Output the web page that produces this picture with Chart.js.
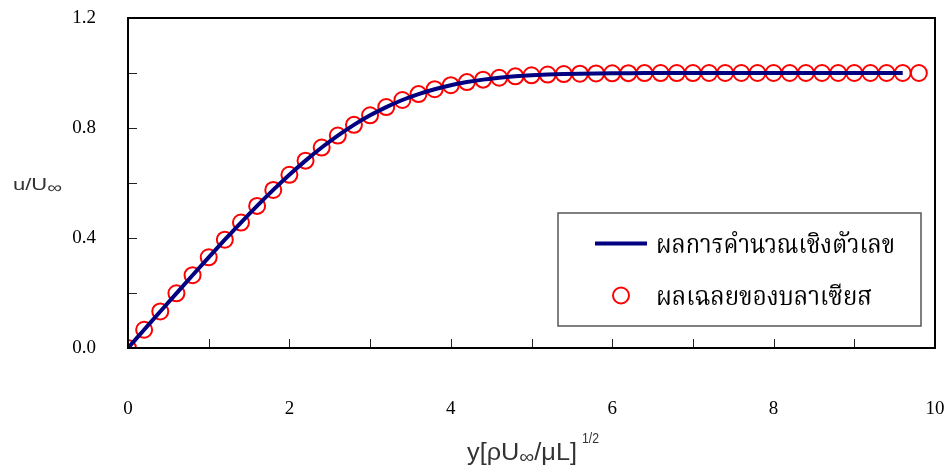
<!DOCTYPE html>
<html>
<head>
<meta charset="utf-8">
<script src="https://cdn.jsdelivr.net/npm/chart.js@4.4.1/dist/chart.umd.min.js"></script>
<style>
  html, body { margin: 0; padding: 0; background: #fff; }
  #wrap { width: 945px; height: 469px; }
</style>
</head>
<body>
<div id="wrap"><canvas id="graph" width="945" height="469"></canvas></div>
<script>
// Blasius similarity variable and velocity ratio u/U
const etaValues = [0.0, 0.2, 0.4, 0.6, 0.8, 1.0, 1.2, 1.4, 1.6, 1.8,
                   2.0, 2.2, 2.4, 2.6, 2.8, 3.0, 3.2, 3.4, 3.6, 3.8,
                   4.0, 4.2, 4.4, 4.6, 4.8, 5.0, 5.2, 5.4, 5.6, 5.8,
                   6.0, 6.2, 6.4, 6.6, 6.8, 7.0, 7.2, 7.4, 7.6, 7.8,
                   8.0, 8.2, 8.4, 8.6, 8.8, 9.0, 9.2, 9.4, 9.6, 9.8];
const blasiusU = [0.0, 0.0664, 0.1328, 0.1989, 0.2647, 0.3298, 0.3938, 0.4563, 0.5168, 0.5748,
                  0.6298, 0.6813, 0.7290, 0.7725, 0.8115, 0.8461, 0.8761, 0.9018, 0.9233, 0.9411,
                  0.9555, 0.9670, 0.9759, 0.9827, 0.9878, 0.9916, 0.9943, 0.9962, 0.9975, 0.9984,
                  0.9990, 0.9994, 0.9996, 0.9998, 0.9999, 0.9999, 1.0, 1.0, 1.0, 1.0,
                  1.0, 1.0, 1.0, 1.0, 1.0, 1.0, 1.0, 1.0, 1.0, 1.0];
// numerical solution, same grid, stops at eta = 9.6
const numericEta = etaValues.slice(0, 49);
const numericU = [0.0, 0.0664, 0.1328, 0.1989, 0.2647, 0.3298, 0.3938, 0.4563, 0.5168, 0.5748,
                  0.6298, 0.6813, 0.7290, 0.7725, 0.8115, 0.8461, 0.8761, 0.9018, 0.9233, 0.9411,
                  0.9555, 0.9670, 0.9759, 0.9827, 0.9878, 0.9916, 0.9943, 0.9962, 0.9975, 0.9984,
                  0.9990, 0.9994, 0.9996, 0.9998, 0.9999, 0.9999, 1.0, 1.0, 1.0, 1.0,
                  1.0, 1.0, 1.0, 1.0, 1.0, 1.0, 1.0, 1.0, 1.0];

const xTickLabels = ['0', '2', '4', '6', '8', '10'];
const yTickLabels = ['0.0', '0.4', '0.8', '1.2'];
const legendLabels = ['ผลการคำนวณเชิงตัวเลข', 'ผลเฉลยของบลาเซียส'];

const serif = '"Liberation Serif", "Times New Roman", serif';
const sans = '"Liberation Sans", Arial, sans-serif';
const thaiFont = '"Noto Serif Thai", "Noto Sans Thai", "Loma", "Garuda", "Norasi", serif';

// draw text squeezed/stretched to a given width
function fitText(ctx, text, tx, ty, width) {
    const m = ctx.measureText(text).width;
    ctx.save();
    ctx.translate(tx, ty);
    ctx.scale(width / m, 1);
    ctx.fillText(text, 0, 0);
    ctx.restore();
}

// mixed-size text runs (for the lowered infinity sign), fitted to a width
function fitRuns(ctx, runs, tx, ty, width) {
    let total = 0;
    const widths = runs.map(r => {
        ctx.font = r.size + 'px ' + sans;
        const w = ctx.measureText(r.t).width;
        total += w;
        return w;
    });
    ctx.save();
    ctx.translate(tx, ty);
    ctx.scale(width / total, 1);
    let cx = 0;
    runs.forEach((r, i) => {
        ctx.font = r.size + 'px ' + sans;
        ctx.fillText(r.t, cx, r.dy || 0);
        cx += widths[i];
    });
    ctx.restore();
}

// frame, inner tick marks, axis titles and legend
const decorations = {
    id: 'decorations',
    afterDatasetsDraw(chart) {
        const { ctx, chartArea: a, scales: { x, y } } = chart;
        ctx.save();

        // inner ticks
        ctx.strokeStyle = '#222';
        ctx.lineWidth = 1;
        ctx.beginPath();
        for (let v = 1; v < 10; v++) {
            const px = Math.round(x.getPixelForValue(v)) + 0.5;
            ctx.moveTo(px, a.bottom);
            ctx.lineTo(px, a.bottom - 9);
        }
        for (let i = 1; i < 6; i++) {
            const py = Math.round(y.getPixelForValue(i * 0.2)) + 0.5;
            ctx.moveTo(a.left, py);
            ctx.lineTo(a.left + 9, py);
        }
        ctx.stroke();

        // frame
        ctx.strokeStyle = '#000';
        ctx.lineWidth = 2;
        ctx.strokeRect(a.left, a.top, a.right - a.left, a.bottom - a.top);

        // axis titles
        ctx.fillStyle = '#333';
        ctx.textBaseline = 'alphabetic';
        ctx.textAlign = 'left';
        fitRuns(ctx, [
            { t: 'u/U', size: 17 },
            { t: '∞', size: 16, dy: 3 }
        ], 13, 190, 49);

        fitRuns(ctx, [
            { t: 'y[ρU', size: 23 },
            { t: '∞', size: 19, dy: 3 },
            { t: '/μL]', size: 23 }
        ], 467, 460, 110);
        ctx.font = '15px ' + sans;
        fitText(ctx, '1/2', 582, 443, 17);

        // legend box
        const lx = 558, ly = 213, lw = 363, lh = 113;
        ctx.fillStyle = '#fff';
        ctx.fillRect(lx, ly, lw, lh);
        ctx.strokeStyle = '#555';
        ctx.lineWidth = 1.5;
        ctx.strokeRect(lx, ly, lw, lh);

        const lineSet = chart.data.datasets[0];
        const dotSet = chart.data.datasets[1];
        ctx.strokeStyle = lineSet.borderColor;
        ctx.lineWidth = lineSet.borderWidth;
        ctx.beginPath();
        ctx.moveTo(595, 243.5);
        ctx.lineTo(647, 243.5);
        ctx.stroke();

        ctx.strokeStyle = dotSet.pointBorderColor;
        ctx.lineWidth = dotSet.pointBorderWidth;
        ctx.beginPath();
        ctx.arc(621, 295.5, dotSet.pointRadius, 0, Math.PI * 2);
        ctx.stroke();

        ctx.fillStyle = '#000';
        ctx.font = '26px ' + thaiFont;
        fitText(ctx, legendLabels[0], 656, 253, 239);
        fitText(ctx, legendLabels[1], 656, 305, 216);

        ctx.restore();
    }
};

new Chart(document.getElementById('graph').getContext('2d'), {
    type: 'scatter',
    data: {
        datasets: [{
            label: legendLabels[0],
            type: 'line',
            data: numericEta.map((e, i) => ({ x: e, y: numericU[i] })),
            borderColor: '#000080',
            borderWidth: 4,
            pointRadius: 0,
            fill: false,
            cubicInterpolationMode: 'monotone',
            order: 1
        }, {
            label: legendLabels[1],
            data: etaValues.map((e, i) => ({ x: e, y: blasiusU[i] })),
            pointRadius: 8,
            pointBorderWidth: 2,
            pointBorderColor: '#ff0000',
            pointBackgroundColor: 'rgba(0,0,0,0)',
            order: 2
        }]
    },
    options: {
        responsive: false,
        animation: false,
        layout: { padding: { left: 0, right: 9, top: 18, bottom: 0 } },
        plugins: {
            legend: { display: false },
            tooltip: { enabled: false }
        },
        scales: {
            x: {
                type: 'linear',
                min: 0,
                max: 10,
                grid: { display: false, drawTicks: false },
                border: { display: false },
                afterBuildTicks(scale) {
                    scale.ticks = xTickLabels.map(t => ({ value: Number(t) }));
                },
                afterFit(scale) {
                    scale.height = 121;
                    scale.paddingLeft = 0;
                    scale.paddingRight = 0;
                },
                ticks: {
                    padding: 50,
                    color: '#000',
                    font: { family: serif, size: 19 },
                    callback: v => String(v)
                }
            },
            y: {
                min: 0,
                max: 1.2,
                grid: { display: false, drawTicks: false },
                border: { display: false },
                afterBuildTicks(scale) {
                    scale.ticks = yTickLabels.map(t => ({ value: Number(t) }));
                },
                afterFit(scale) {
                    scale.width = 128;
                    scale.paddingTop = 0;
                    scale.paddingBottom = 0;
                },
                ticks: {
                    padding: 32,
                    color: '#000',
                    font: { family: serif, size: 19 },
                    callback: v => v.toFixed(1)
                }
            }
        }
    },
    plugins: [decorations]
});
</script>
</body>
</html>
